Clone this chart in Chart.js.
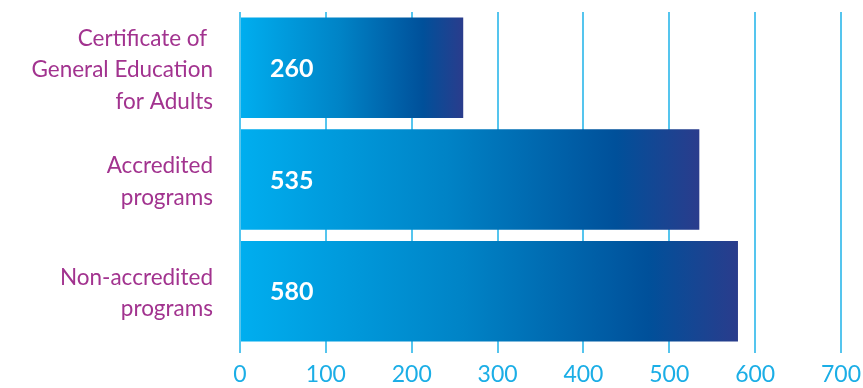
<!DOCTYPE html>
<html>
<head>
<meta charset="utf-8">
<script src="https://cdn.jsdelivr.net/npm/chart.js@4"></script>
<style>
  html, body { margin: 0; padding: 0; background: #fff; }
  #wrap { width: 863px; height: 388px; position: relative; }
</style>
</head>
<body>
<div id="wrap"><canvas id="enrolChart"></canvas></div>
<script>
// categories and values
const categories = [
  ["Certificate of ", "General Education", "for Adults"],
  ["Accredited", "programs"],
  ["Non-accredited", "programs"],
];
const enrolments = [260, 535, 580];
const xTicks = [0, 100, 200, 300, 400, 500, 600, 700];

const FONT = "Lato, 'Open Sans', sans-serif";

// gradient running from the zero line to the end of each bar
function barGradient(context) {
  const chart = context.chart;
  const xScale = chart.scales.x;
  if (!chart.chartArea || !xScale || context.raw == null) return "#00AEEF";
  const x0 = xScale.getPixelForValue(0);
  const x1 = xScale.getPixelForValue(context.raw);
  if (!isFinite(x0) || !isFinite(x1)) return "#00AEEF";
  const g = chart.ctx.createLinearGradient(x0, 0, x1, 0);
  g.addColorStop(0, "#00AEEF");
  g.addColorStop(0.45, "#0083C6");
  g.addColorStop(0.82, "#00509A");
  g.addColorStop(1, "#2A3C8C");
  return g;
}

// white value labels near the left end of every bar
const valueLabels = {
  id: "valueLabels",
  afterDatasetsDraw(chart) {
    const ctx = chart.ctx;
    const meta = chart.getDatasetMeta(0);
    const x0 = chart.scales.x.getPixelForValue(0);
    ctx.save();
    ctx.fillStyle = "#ffffff";
    ctx.font = `bold 25px ${FONT}`;
    ctx.textAlign = "left";
    ctx.textBaseline = "middle";
    meta.data.forEach((bar, i) => {
      ctx.fillText(String(enrolments[i]), x0 + 30, bar.y + 1);
    });
    ctx.restore();
  },
};

new Chart(document.getElementById("enrolChart"), {
  type: "bar",
  data: {
    labels: categories,
    datasets: [{
      data: enrolments,
      backgroundColor: barGradient,
      borderWidth: 0,
      barPercentage: 1,
      categoryPercentage: 0.9,
    }],
  },
  options: {
    indexAxis: "y",
    responsive: true,
    maintainAspectRatio: false,
    animation: false,
    layout: { padding: { top: 12, right: 22, left: 0, bottom: 0 } },
    plugins: {
      legend: { display: false },
      tooltip: { enabled: false },
    },
    scales: {
      x: {
        min: 0,
        max: 700,
        afterBuildTicks: (axis) => { axis.ticks = xTicks.map(v => ({ value: v })); },
        afterFit: (axis) => {
          axis.height = 41;
          axis.paddingLeft = 0;
          axis.paddingRight = 0;
        },
        border: { display: false },
        grid: {
          color: "#55C5EE",
          lineWidth: 2,
          drawTicks: true,
          tickLength: 6,
        },
        ticks: {
          color: "#1BAEE6",
          font: { family: FONT, size: 23 },
          padding: 8,
        },
      },
      y: {
        afterFit: (axis) => {
          axis.width = 240;
          // the bars are offset, so the multi-line labels never overflow
          axis.paddingTop = 0;
          axis.paddingBottom = 0;
        },
        border: { display: false },
        grid: { display: false },
        ticks: {
          color: "#A2338F",
          font: { family: FONT, size: 22.5, lineHeight: 1.4 },
          padding: 19,
          labelOffset: 2,
        },
      },
    },
  },
  plugins: [valueLabels],
});
</script>
</body>
</html>
